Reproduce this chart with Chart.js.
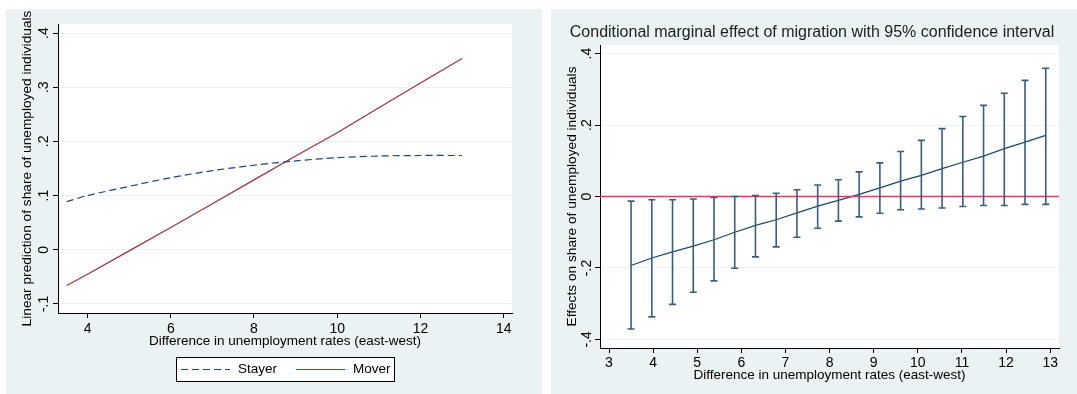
<!DOCTYPE html>
<html>
<head>
<meta charset="utf-8">
<script src="https://cdn.jsdelivr.net/npm/chart.js@4.4.0/dist/chart.umd.min.js"></script>
<style>
html, body { margin: 0; padding: 0; background: #fff; width: 1077px; height: 394px; overflow: hidden; }
.panel { position: absolute; background: #eaf2f3; }
#p1 { left: 6px; top: 9px; width: 536px; height: 385px; }
#p2 { left: 551px; top: 9px; width: 526px; height: 385px; }
canvas { display: block; }
</style>
</head>
<body>
<div class="panel" id="p1"><canvas id="c1" width="536" height="385"></canvas></div>
<div class="panel" id="p2"><canvas id="c2" width="526" height="385"></canvas></div>
<script>
// left panel: linear predictions
const diffLeft = [3.5, 4, 5, 6, 7, 8, 9, 10, 11, 12, 13];
const stayer = [0.089, 0.100, 0.117, 0.133, 0.146, 0.156, 0.164, 0.170, 0.173, 0.174, 0.174];
const mover = [-0.066, -0.045, -0.002, 0.041, 0.085, 0.129, 0.173, 0.216, 0.262, 0.308, 0.353];
const xTicksLeft = [4, 6, 8, 10, 12, 14];
const yTicksLeft = [-0.1, 0, 0.1, 0.2, 0.3, 0.4];
const yLabelsLeft = ['-.1', '0', '.1', '.2', '.3', '.4'];

// right panel: marginal effect with 95% CI
const diffRight = [3.5, 3.97, 4.44, 4.91, 5.38, 5.85, 6.32, 6.79, 7.26, 7.73, 8.2,
  8.67, 9.14, 9.61, 10.08, 10.55, 11.02, 11.49, 11.96, 12.43, 12.9];
const effect = [-0.193, -0.172, -0.155, -0.139, -0.121, -0.100, -0.081, -0.065, -0.046, -0.027, -0.011,
  0.006, 0.024, 0.043, 0.059, 0.078, 0.096, 0.113, 0.134, 0.152, 0.171];
const ciHigh = [-0.013, -0.009, -0.009, -0.007, -0.003, 0.000, 0.003, 0.009, 0.019, 0.032, 0.047,
  0.069, 0.094, 0.126, 0.157, 0.190, 0.224, 0.255, 0.289, 0.325, 0.359];
const ciLow = [-0.371, -0.337, -0.302, -0.268, -0.236, -0.201, -0.169, -0.141, -0.114, -0.089, -0.069,
  -0.057, -0.047, -0.037, -0.035, -0.032, -0.028, -0.025, -0.025, -0.022, -0.022];
const xTicksRight = [3, 4, 5, 6, 7, 8, 9, 10, 11, 12, 13];
const yTicksRight = [-0.4, -0.2, 0, 0.2, 0.4];
const yLabelsRight = ['-.4', '-.2', '0', '.2', '.4'];
const zeroLine = 0;

const NAVY = 'rgb(26,71,111)';
const MAROON = 'rgb(150,50,60)';

Chart.defaults.font.family = '"Liberation Sans", Arial, sans-serif';
Chart.defaults.color = '#000';

// white plot region
const plotBg = {
  id: 'plotBg',
  beforeDraw(chart) {
    const { ctx, chartArea: a } = chart;
    ctx.save();
    ctx.fillStyle = '#fff';
    ctx.fillRect(a.left, a.top, a.right - a.left, a.bottom - a.top);
    ctx.restore();
  }
};

function axisX(min, max, ticks, height, pad) {
  return {
    type: 'linear',
    min: min,
    max: max,
    afterBuildTicks: s => { s.ticks = ticks.map(v => ({ value: v })); },
    afterFit: s => { s.height = height; },
    grid: { drawOnChartArea: false, tickLength: 5, tickColor: '#000' },
    border: { color: '#000', width: 1 },
    ticks: { font: { size: 14 }, padding: pad, autoSkip: false, maxRotation: 0, callback: v => String(v) },
    title: { display: true, text: 'Difference in unemployment rates (east-west)', font: { size: 13.5 }, padding: 0 }
  };
}

function axisY(min, max, ticks, labels, width, pad, title, titlePad) {
  return {
    min: min,
    max: max,
    afterBuildTicks: s => { s.ticks = ticks.map(v => ({ value: v })); },
    afterFit: s => { s.width = width; },
    grid: { color: '#eaf2f3', tickLength: 5, tickColor: '#000' },
    border: { color: '#000', width: 1 },
    ticks: {
      font: { size: 14 }, padding: pad, autoSkip: false,
      minRotation: 90, maxRotation: 90, crossAlign: 'center',
      callback: (v, i) => labels[i]
    },
    title: { display: true, text: title, font: { size: 13.7 }, padding: { top: titlePad, bottom: 0 } }
  };
}

// boxed legend under the left plot
const legendBox = {
  id: 'legendBox',
  afterDraw(chart) {
    const { ctx, chartArea } = chart;
    const w = 218, h = 24;
    const x0 = (chartArea.left + chartArea.right) / 2 - w / 2;
    const y0 = 348;
    const ym = y0 + h / 2 + 0.5;
    ctx.save();
    ctx.fillStyle = '#fff';
    ctx.fillRect(x0, y0, w, h);
    ctx.strokeStyle = '#000';
    ctx.lineWidth = 1;
    ctx.strokeRect(x0 + 0.5, y0 + 0.5, w, h);
    ctx.font = '13.5px "Liberation Sans", Arial, sans-serif';
    ctx.textBaseline = 'middle';
    ctx.fillStyle = '#000';
    chart.data.datasets.forEach((ds, i) => {
      const lx = x0 + 5 + i * 115;
      ctx.strokeStyle = ds.borderColor;
      ctx.lineWidth = ds.borderWidth;
      ctx.setLineDash(ds.borderDash || []);
      ctx.beginPath();
      ctx.moveTo(lx, ym);
      ctx.lineTo(lx + 49, ym);
      ctx.stroke();
      ctx.setLineDash([]);
      ctx.fillText(ds.label, lx + 57, ym);
    });
    ctx.restore();
  }
};

new Chart(document.getElementById('c1'), {
  type: 'line',
  data: {
    datasets: [
      {
        label: 'Stayer',
        data: diffLeft.map((x, i) => ({ x: x, y: stayer[i] })),
        borderColor: NAVY,
        borderWidth: 1.2,
        borderDash: [7, 4],
        pointRadius: 0,
        tension: 0.3
      },
      {
        label: 'Mover',
        data: diffLeft.map((x, i) => ({ x: x, y: mover[i] })),
        borderColor: MAROON,
        borderWidth: 1.2,
        pointRadius: 0
      }
    ]
  },
  options: {
    responsive: false,
    animation: false,
    devicePixelRatio: 1,
    layout: { padding: { top: 15, right: 30, bottom: 45, left: 0 } },
    plugins: { legend: { display: false }, tooltip: { enabled: false } },
    scales: {
      x: axisX(3.29, 14.2, xTicksLeft, 36, 3),
      y: axisY(-0.1167, 0.4167, yTicksLeft, yLabelsLeft, 52, 1,
        'Linear prediction of share of unemployed individuals', 13)
    }
  },
  plugins: [plotBg, legendBox]
});

// vertical CI bars with caps
const errorBars = {
  id: 'errorBars',
  afterDatasetsDraw(chart) {
    const { ctx, scales: { x, y } } = chart;
    ctx.save();
    ctx.strokeStyle = 'rgb(60,92,125)';
    ctx.lineWidth = 1.6;
    diffRight.forEach((d, i) => {
      const px = x.getPixelForValue(d);
      const lo = y.getPixelForValue(ciLow[i]);
      const hi = y.getPixelForValue(ciHigh[i]);
      ctx.beginPath();
      ctx.moveTo(px, lo); ctx.lineTo(px, hi);
      ctx.moveTo(px - 3.5, lo); ctx.lineTo(px + 3.5, lo);
      ctx.moveTo(px - 3.5, hi); ctx.lineTo(px + 3.5, hi);
      ctx.stroke();
    });
    ctx.restore();
  }
};

const xMinR = 2.796, xMaxR = 13.2;

new Chart(document.getElementById('c2'), {
  type: 'line',
  data: {
    datasets: [
      {
        label: 'zero',
        data: [{ x: xMinR, y: zeroLine }, { x: xMaxR, y: zeroLine }],
        borderColor: 'rgb(205,70,100)',
        borderWidth: 1.5,
        pointRadius: 0
      },
      {
        label: 'Effect',
        data: diffRight.map((x, i) => ({ x: x, y: effect[i] })),
        borderColor: NAVY,
        borderWidth: 1.2,
        pointRadius: 0
      }
    ]
  },
  options: {
    responsive: false,
    animation: false,
    devicePixelRatio: 1,
    layout: { padding: { top: 0, right: 18, bottom: 11, left: 14 } },
    plugins: {
      legend: { display: false },
      tooltip: { enabled: false },
      title: {
        display: true,
        text: 'Conditional marginal effect of migration with 95% confidence interval',
        color: '#1e1e1e',
        font: { size: 16, weight: 'normal' },
        padding: { top: 14.4, bottom: 2.4 }
      }
    },
    scales: {
      x: axisX(xMinR, xMaxR, xTicksRight, 35, 2),
      y: axisY(-0.424, 0.424, yTicksRight, yLabelsRight, 35, 0,
        'Effects on share of unemployed individuals', -1)
    }
  },
  plugins: [plotBg, errorBars]
});
</script>
</body>
</html>
